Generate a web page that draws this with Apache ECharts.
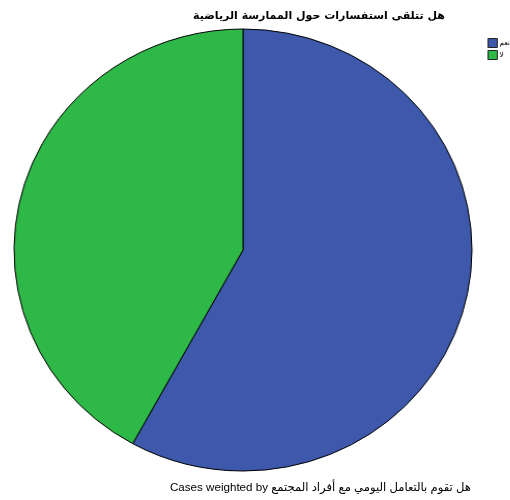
<!DOCTYPE html>
<html>
<head>
<meta charset="utf-8">
<script src="https://cdn.jsdelivr.net/npm/echarts@6/dist/echarts.min.js"></script>
<style>
  html, body { margin: 0; padding: 0; background: #fff; }
  #wrap { position: relative; width: 510px; height: 500px; overflow: hidden; }
  #pie, #text { position: absolute; left: 0; top: 0; width: 510px; height: 500px; }
  /* the pie is drawn slightly wider than tall */
  #pie { transform: scaleX(1.036); transform-origin: 243px 250px; }
</style>
</head>
<body>
<div id="wrap">
  <div id="pie"></div>
  <div id="text"></div>
</div>
<script>
// Answer categories and their weighted shares
const categories = ['نعم', 'لا'];
const values = [58, 42];
const colors = ['#3e58ac', '#2eb848'];

const titleText = 'هل تتلقى استفسارات حول الممارسة الرياضية';
const footnoteText = 'Cases weighted by هل تقوم بالتعامل اليومي مع أفراد المجتمع';

const pieChart = echarts.init(document.getElementById('pie'), null, { renderer: 'canvas' });
pieChart.setOption({
  backgroundColor: '#ffffff',
  animation: false,
  legend: {
    orient: 'vertical',
    left: 474,
    top: 33,
    itemWidth: 9,
    itemHeight: 9,
    itemGap: 2,
    icon: 'rect',
    data: categories,
    itemStyle: { borderColor: '#222', borderWidth: 1 },
    textStyle: {
      fontFamily: 'DejaVu Sans, sans-serif',
      fontSize: 7,
      color: '#000',
      padding: [0, 0, 0, -3]
    }
  },
  series: [{
    type: 'pie',
    center: [243, 250],
    radius: 221,
    startAngle: 90,
    clockwise: true,
    label: { show: false },
    labelLine: { show: false },
    emphasis: { disabled: true },
    itemStyle: { borderColor: '#000', borderWidth: 1 },
    data: categories.map((name, i) => ({
      name,
      value: values[i],
      itemStyle: { color: colors[i] }
    }))
  }]
});

// Title and case-weight note, drawn unscaled on top
const textChart = echarts.init(document.getElementById('text'), null, { renderer: 'canvas' });
textChart.setOption({
  animation: false,
  title: {
    text: titleText,
    left: 314,
    top: 6,
    textAlign: 'center',
    textStyle: {
      fontFamily: 'DejaVu Sans, Liberation Sans, sans-serif',
      fontSize: 11,
      fontWeight: 'bold',
      color: '#000'
    }
  },
  graphic: [{
    type: 'text',
    left: 170,
    top: 482,
    style: {
      text: footnoteText,
      fontFamily: 'Liberation Sans, DejaVu Sans, sans-serif',
      fontSize: 11.6,
      fill: '#000'
    }
  }]
});
</script>
</body>
</html>
